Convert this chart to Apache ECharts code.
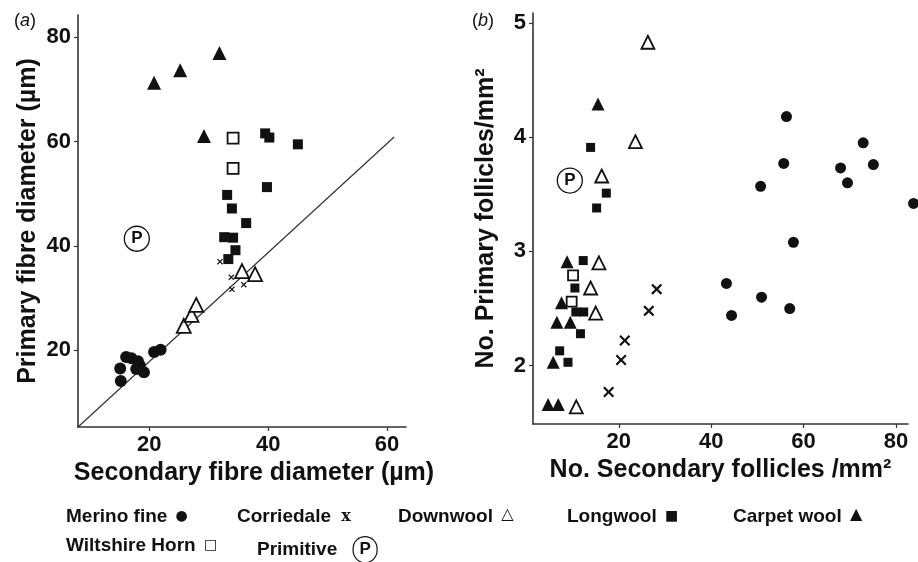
<!DOCTYPE html>
<html>
<head>
<meta charset="utf-8">
<script src="https://cdn.jsdelivr.net/npm/echarts@6/dist/echarts.min.js"></script>
<style>
html,body{margin:0;padding:0;background:#fff;}
#chart{width:918px;height:562px;}
</style>
</head>
<body>
<div id="chart"></div>
<script>
// ---------- Panel (a): fibre diameters [secondary, primary] (µm) ----------
const merinoA = [[15.1,16.5],[15.2,14.1],[16.1,18.7],[17.0,18.5],[18.1,17.9],[17.8,16.4],[19.1,15.8],[20.8,19.7],[21.9,20.1],[18.4,17.1]];
const corriedaleA = [[31.9,37.0],[33.8,34.0],[33.9,31.7],[35.9,32.6]];
const downwoolA = [[25.8,24.7],[27.1,26.8],[27.9,28.7],[35.6,35.2],[37.8,34.6]];
const longwoolA = [[33.1,49.8],[33.9,47.2],[36.3,44.4],[39.8,51.3],[32.6,41.7],[34.1,41.6],[34.5,39.2],[33.3,37.5],[39.5,61.6],[40.2,60.8],[45.0,59.5]];
const carpetA = [[20.8,71.3],[25.2,73.7],[31.8,77.0],[29.2,61.1]];
const wiltshireA = [[34.1,60.7],[34.1,54.9]];
const primitiveA = [[17.9,41.4]];
const refLineA = [[8,5.3],[61.2,60.9]];

// ---------- Panel (b): follicle densities [secondary, primary] (/mm²) ----------
const merinoB = [[56.3,4.18],[55.7,3.77],[50.7,3.57],[72.9,3.95],[68.0,3.73],[75.1,3.76],[69.5,3.60],[83.8,3.42],[57.8,3.08],[43.3,2.72],[44.4,2.44],[50.9,2.60],[57.0,2.50]];
const corriedaleB = [[28.2,2.67],[26.5,2.48],[21.3,2.22],[20.5,2.05],[17.8,1.77]];
const downwoolB = [[26.3,4.83],[23.6,3.96],[16.3,3.66],[15.7,2.90],[13.9,2.68],[15.0,2.46],[10.8,1.64]];
const longwoolB = [[13.9,3.91],[17.3,3.51],[15.2,3.38],[12.3,2.92],[10.5,2.68],[10.7,2.47],[12.4,2.47],[11.7,2.28],[7.2,2.13],[9.0,2.03]];
const carpetB = [[15.5,4.29],[8.8,2.91],[7.6,2.55],[6.6,2.38],[9.5,2.38],[5.8,2.03],[4.7,1.66],[6.9,1.66]];
const wiltshireB = [[10.1,2.79],[9.8,2.56]];
const primitiveB = [[9.4,3.62]];

// ---------- Tick labels ----------
const ticksAX = [20,40,60];
const ticksAY = [20,40,60,80];
const ticksBX = [20,40,60,80];
const ticksBY = [2,3,4,5];

const groupNames = ['Merino fine','Corriedale','Downwool','Longwool','Carpet wool','Wiltshire Horn','Primitive'];

const FONT = '"Liberation Sans", Arial, Helvetica, sans-serif';
const INK = '#111';
const AXIS = '#333';
const xPath = 'path://M0,1.4L1.4,0L5,3.6L8.6,0L10,1.4L6.4,5L10,8.6L8.6,10L5,6.4L1.4,10L0,8.6L3.6,5Z';

function axisCommon(ticks, isY){
  return {
    type:'value',
    splitLine:{show:false},
    axisLine:{show:true,onZero:false,lineStyle:{color:AXIS,width:1.6}},
    axisTick:{show:true,length:4,inside:false,customValues:ticks,lineStyle:{color:AXIS,width:1.2}},
    axisLabel:{customValues:ticks,color:INK,fontFamily:FONT,fontWeight:'bold',fontSize:22,margin:7},
    nameLocation:'middle',
    nameTextStyle:{color:INK,fontFamily:FONT,fontWeight:'bold',fontSize:25}
  };
}

function sc(name, data, gi, sym, size, style, extra){
  return Object.assign({
    name:name,type:'scatter',xAxisIndex:gi,yAxisIndex:gi,data:data,
    symbol:sym,symbolSize:size,clip:false,itemStyle:Object.assign({opacity:1},style),
    emphasis:{disabled:true},z:3
  }, extra||{});
}
const filled = {color:INK};
const openS = {color:'#fff',borderColor:INK,borderWidth:1.8};
const primStyle = {color:'#fff',borderColor:INK,borderWidth:1.3};
const primLabel = {label:{show:true,position:'inside',formatter:'P',fontFamily:FONT,fontWeight:'bold',fontSize:17,color:INK}};

const series = [
  {name:'1:1',type:'line',xAxisIndex:0,yAxisIndex:0,data:refLineA,symbol:'none',
   lineStyle:{color:'#333',width:1.2},z:2,silent:true},
  sc('Merino fine',merinoA,0,'circle',12,filled),
  sc('Corriedale',corriedaleA,0,xPath,6,filled),
  sc('Downwool',downwoolA,0,'triangle',14,openS),
  sc('Longwool',longwoolA,0,'rect',10,filled),
  sc('Carpet wool',carpetA,0,'triangle',14,filled),
  sc('Wiltshire Horn',wiltshireA,0,'rect',11,openS),
  sc('Primitive',primitiveA,0,'circle',25,primStyle,primLabel),
  sc('Merino fine',merinoB,1,'circle',11,filled),
  sc('Corriedale',corriedaleB,1,xPath,11,filled),
  sc('Downwool',downwoolB,1,'triangle',13,openS),
  sc('Longwool',longwoolB,1,'rect',9,filled),
  sc('Carpet wool',carpetB,1,'triangle',13,filled),
  sc('Wiltshire Horn',wiltshireB,1,'rect',10,openS),
  sc('Primitive',primitiveB,1,'circle',25,primStyle,primLabel)
];

const legendSym = {
  'Merino fine':'{c|●}','Corriedale':'{x|x}','Downwool':'{t|△}','Longwool':'{q|■}',
  'Carpet wool':'{t|▲}','Wiltshire Horn':'{q|□}','Primitive':'{p|P}'
};
const legendPos = [[61,507],[232,507],[393,507],[562,507],[728,507],[61,536],[252,536]];
const rich = {
  c:{fontSize:14,color:INK,fontFamily:'DejaVu Sans',padding:[0,0,0,3]},
  x:{fontSize:16,color:INK,fontFamily:'DejaVu Serif',fontWeight:'bold',padding:[0,0,0,5]},
  t:{fontSize:16,color:INK,fontFamily:'DejaVu Sans',padding:[0,0,3,3]},
  q:{fontSize:14,color:INK,fontFamily:'DejaVu Sans',padding:[0,0,0,3]},
  p:{fontSize:17,fontWeight:'bold',color:INK,fontFamily:FONT,borderColor:INK,borderWidth:1.2,
     borderRadius:13,width:24,height:26,lineHeight:26,align:'center'}
};
const legends = groupNames.map((n,i)=>({
  data:[n],left:legendPos[i][0],top:legendPos[i][1],icon:'none',itemWidth:0,itemHeight:0,itemGap:0,
  selectedMode:false,padding:0,
  formatter:(name)=>name+' '+(n==='Primitive'?'  ':'')+legendSym[name],
  textStyle:{color:INK,fontFamily:FONT,fontWeight:'bold',fontSize:19,rich:rich}
}));

const option = {
  backgroundColor:'#fff',
  animation:false,
  grid:[
    {left:78,top:15,width:328,height:412},
    {left:533,top:13,width:375,height:411}
  ],
  xAxis:[
    Object.assign(axisCommon(ticksAX,false),{gridIndex:0,min:8,max:63.2,name:'Secondary fibre diameter (µm)',nameGap:25,
      nameTextStyle:{color:INK,fontFamily:FONT,fontWeight:'bold',fontSize:25,padding:[0,0,0,24]}}),
    Object.assign(axisCommon(ticksBX,false),{gridIndex:1,min:1.43,max:82.6,name:'No. Secondary follicles /mm²',nameGap:29})
  ],
  yAxis:[
    Object.assign(axisCommon(ticksAY,true),{gridIndex:0,min:5.3,max:84.3,name:'Primary fibre diameter (µm)',nameGap:37}),
    Object.assign(axisCommon(ticksBY,true),{gridIndex:1,min:1.49,max:5.086,name:'No. Primary follicles/mm²',nameGap:34})
  ],
  legend:legends,
  graphic:[
    {type:'text',left:14,top:12,style:{text:'({i|a})',font:'18px '+FONT,fill:INK,
      rich:{i:{fontStyle:'italic',fontSize:18,fontFamily:FONT,fill:INK}}}},
    {type:'text',left:472,top:12,style:{text:'({i|b})',font:'18px '+FONT,fill:INK,
      rich:{i:{fontStyle:'italic',fontSize:18,fontFamily:FONT,fill:INK}}}}
  ],
  series:series
};

const chart = echarts.init(document.getElementById('chart'),null,{renderer:'canvas'});
chart.setOption(option);
</script>
</body>
</html>
